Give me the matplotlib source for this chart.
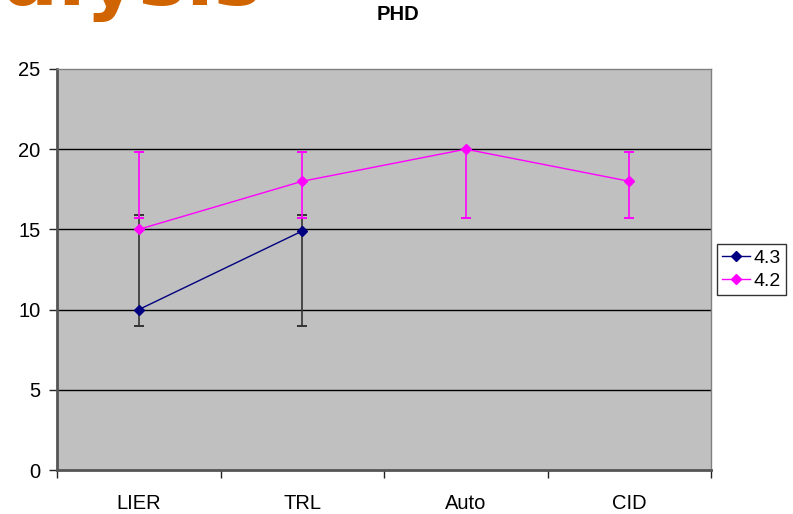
import numpy as np
import matplotlib
matplotlib.use("Agg")
import matplotlib.pyplot as plt

# Categories and series values
categories = ["LIER", "TRL", "Auto", "CID"]
series_43 = [10, 14.9, np.nan, np.nan]
series_43_low = [9, 9, np.nan, np.nan]
series_43_high = [15.9, 15.9, np.nan, np.nan]
series_42 = [15, 18, 20, 18]
series_42_low = [15.7, 15.7, 15.7, 15.7]
series_42_high = [19.85, 19.85, 20, 19.85]
y_ticks = [0, 5, 10, 15, 20, 25]

plt.rcParams["font.family"] = ["Liberation Sans", "DejaVu Sans"]

fig = plt.figure(figsize=(7.93, 5.14), dpi=100)
ax = fig.add_axes([0.0719, 0.0856, 0.8247, 0.7802])
ax.set_facecolor("#C0C0C0")

x = np.arange(len(categories)) + 0.5

# horizontal gridlines
for yv in y_ticks[1:-1]:
    ax.axhline(yv, color="black", lw=1.0, zorder=1)

# error bars (drawn as ranges)
def draw_range(xs, lo, hi, color, z):
    for xi, l, h in zip(xs, lo, hi):
        if np.isnan(l):
            continue
        ax.vlines(xi, l, h, color=color, lw=1.2, zorder=z)
        ax.plot([xi, xi], [l, h], ls="none", marker="_", ms=7, mew=1.4,
                color=color, zorder=z)

draw_range(x, series_43_low, series_43_high, "#333333", 3)
draw_range(x, series_42_low, series_42_high, "#FF00FF", 3)

ax.plot(x, series_43, color="#000080", lw=1.0, marker="D", ms=5,
        label="4.3", zorder=4)
ax.plot(x, series_42, color="#FF00FF", lw=1.0, marker="D", ms=5,
        label="4.2", zorder=4)

ax.set_xlim(0, 4)
ax.set_ylim(0, 25)
ax.set_yticks(y_ticks)
ax.set_yticklabels([str(v) for v in y_ticks], fontsize=14.5)
ax.set_xticks([0, 1, 2, 3, 4])
ax.set_xticklabels([])
ax.set_xticks(x, minor=True)
ax.set_xticklabels(categories, minor=True, fontsize=14.5)
ax.tick_params(axis="x", which="minor", length=0, pad=17)
ax.tick_params(axis="x", which="major", length=6, width=1, color="#222222")
ax.tick_params(axis="y", length=6, width=1, color="#222222", pad=6)

for side in ["top", "right"]:
    ax.spines[side].set_color("#808080")
    ax.spines[side].set_linewidth(1.0)
for side in ["left", "bottom"]:
    ax.spines[side].set_color("#555555")
    ax.spines[side].set_linewidth(2.0)

leg = ax.legend(loc="center left", bbox_to_anchor=(1.009, 0.5), fontsize=14,
                frameon=True, fancybox=False, edgecolor="black",
                handlelength=1.45, handletextpad=0.2, borderpad=0.25,
                labelspacing=0.3, borderaxespad=0.0)
leg.get_frame().set_linewidth(1.0)

fig.text(398 / 793, 1 - 14 / 514, "PHD", ha="center", va="center",
         fontsize=14.5, fontweight="bold")

# slide heading partly cut off by the top edge
fig.text(262 / 793, 1 - 5 / 514, "Analysis", ha="right", va="baseline",
         fontsize=58, fontweight="bold", color="#D06400",
         family="DejaVu Sans")

fig.savefig("out.png", dpi=100)
